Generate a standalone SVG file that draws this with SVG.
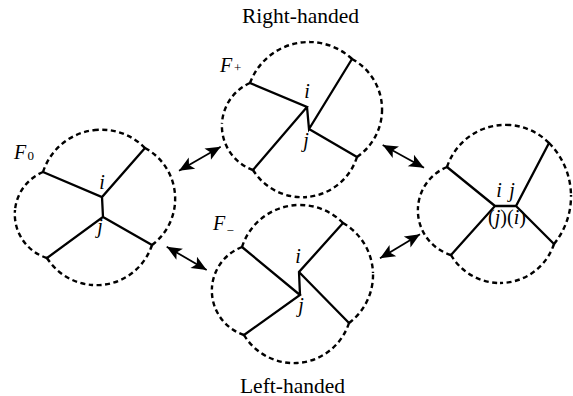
<svg xmlns="http://www.w3.org/2000/svg" width="573" height="396" viewBox="0 0 573 396">
<defs>
<style>
.bd{fill:none;stroke:#000;stroke-width:2.4;stroke-dasharray:5 3.5}
.ed{fill:none;stroke:#000;stroke-width:2.3;stroke-linecap:round}
.ar{fill:none;stroke:#000;stroke-width:1.8;marker-start:url(#hd);marker-end:url(#hd)}
.lb{font-style:italic;font-size:20px;fill:#000}
.sub{font-size:13px;fill:#000}
.tt{font-size:21.5px;fill:#000}
.up{font-style:normal}
</style>
<marker id="hd" viewBox="-16 -7 17 14" refX="0" refY="0" markerWidth="17" markerHeight="14" markerUnits="userSpaceOnUse" orient="auto-start-reverse">
<path d="M0,0 L-15,-6.5 L-11.5,0 L-15,6.5 Z" fill="#000"/>
</marker>
</defs>
<rect width="573" height="396" fill="#fff"/>
<g font-family="'Liberation Serif', 'Times New Roman', serif">
<text class="tt" x="300.5" y="23" text-anchor="middle">Right-handed</text>
<text class="tt" x="292.5" y="392.5" text-anchor="middle">Left-handed</text>

<g id="F0">
<path class="bd" d="M43,172 A61.2,61.2 0 0 1 95,130 M145,148 A61.2,61.2 0 0 0 95,130"/>
<path class="bd" d="M145,148 A57.7,57.7 0 0 1 175,203 M152,245 A57.7,57.7 0 0 0 175,203"/>
<path class="bd" d="M152,245 A58.5,58.5 0 0 1 92,285 M47,258 A58.5,58.5 0 0 0 92,285"/>
<path class="bd" d="M47,258 A45.8,45.8 0 0 1 15,210 M43,172 A45.8,45.8 0 0 0 15,210"/>
<path class="ed" d="M43,172 L102,197 L145,148 M102,197 L103,217 L47,258 M103,217 L152,245"/>
<text class="lb" x="102" y="188.5" text-anchor="middle">i</text>
<text class="lb" x="100" y="233" text-anchor="middle">j</text>
<text class="lb" x="14" y="158.5">F</text>
<text class="sub" x="27.5" y="160">0</text>
</g>

<g id="Fplus">
<path class="bd" d="M250,83 A62.9,62.9 0 0 1 310,42 M352,59 A62.9,62.9 0 0 0 310,42"/>
<path class="bd" d="M352,59 A57.5,57.5 0 0 1 382,112 M357,157 A57.5,57.5 0 0 0 382,112"/>
<path class="bd" d="M357,157 A57.7,57.7 0 0 1 307,197 M253,170 A57.7,57.7 0 0 0 307,197"/>
<path class="bd" d="M253,170 A46.8,46.8 0 0 1 222,123 M250,83 A46.8,46.8 0 0 0 222,123"/>
<path class="ed" d="M250,83 L307,107 L253,170 M307,107 L309,129 L352,59 M309,129 L357,157"/>
<text class="lb" x="307" y="98" text-anchor="middle">i</text>
<text class="lb" x="306" y="147" text-anchor="middle">j</text>
<text class="lb" x="220" y="71.5">F</text>
<text class="sub" x="234" y="72">+</text>
</g>

<g id="Fminus">
<path class="bd" d="M242,247 A60.7,60.7 0 0 1 297,205 M343,223 A60.7,60.7 0 0 0 297,205"/>
<path class="bd" d="M343,223 A60,60 0 0 1 373,273 M349,323 A60,60 0 0 0 373,273"/>
<path class="bd" d="M349,323 A58.1,58.1 0 0 1 297,363 M244,335 A58.1,58.1 0 0 0 297,363"/>
<path class="bd" d="M244,335 A46.7,46.7 0 0 1 212,287 M242,247 A46.7,46.7 0 0 0 212,287"/>
<path class="ed" d="M242,247 L300,295 L244,335 M300,295 L299,272 L343,223 M299,272 L349,323"/>
<text class="lb" x="298" y="263" text-anchor="middle">i</text>
<text class="lb" x="301" y="312" text-anchor="middle">j</text>
<text class="lb" x="213" y="229.5">F</text>
<text class="sub" x="226.5" y="235">−</text>
</g>

<g id="Fright">
<path class="bd" d="M447,167 A61.5,61.5 0 0 1 510,125 M549,143 A61.5,61.5 0 0 0 510,125"/>
<path class="bd" d="M549,143 A75.6,75.6 0 0 1 571,195 M554,244 A75.6,75.6 0 0 0 571,195"/>
<path class="bd" d="M554,244 A56.8,56.8 0 0 1 500,283 M451,255 A56.8,56.8 0 0 0 500,283"/>
<path class="bd" d="M451,255 A46.7,46.7 0 0 1 418,207 M447,167 A46.7,46.7 0 0 0 418,207"/>
<path class="ed" d="M447,167 L495,206 L451,255 M495,206 L516,206 L549,143 M516,206 L554,244"/>
<text class="lb" x="499" y="196.5" text-anchor="middle">i</text>
<text class="lb" x="512" y="196.5" text-anchor="middle">j</text>
<text class="lb" x="507" y="224" text-anchor="middle"><tspan class="up">(</tspan>j<tspan class="up">)(</tspan>i<tspan class="up">)</tspan></text>
</g>
</g>

<g id="connectors">
<path class="ar" d="M179,170.7 L220.7,146.7"/>
<path class="ar" d="M166.7,246.7 L206.7,270"/>
<path class="ar" d="M382.7,145 L424,167.7"/>
<path class="ar" d="M380,258.3 L420,234.3"/>
</g>
</svg>
